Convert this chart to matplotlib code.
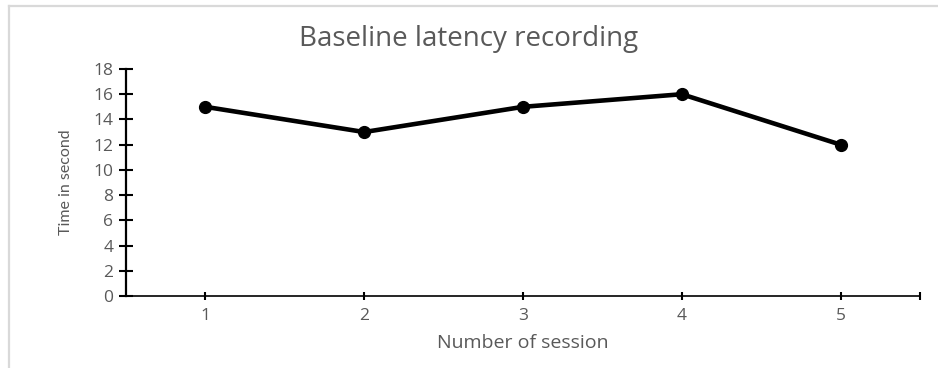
import matplotlib.pyplot as plt
from matplotlib.lines import Line2D

sessions = [1, 2, 3, 4, 5]
latency = [15, 13, 15, 16, 12]
y_ticks = list(range(0, 20, 2))

GRAY = '#595959'

plt.rcParams['font.family'] = ['Open Sans', 'DejaVu Sans']

fig = plt.figure(figsize=(9.38, 3.68), dpi=100)
ax = fig.add_axes([0.1343, 0.1957, 0.8465, 0.6168])

ax.plot(sessions, latency, color='black', linewidth=3.3, marker='o', markersize=8.5,
        solid_capstyle='round', zorder=3)

ax.set_xlim(0.5, 5.5)
ax.set_ylim(0, 18)
ax.set_xticks(sessions + [5.5])
ax.set_xticklabels([str(s) for s in sessions] + [''])
ax.set_yticks(y_ticks)

for side in ['top', 'right']:
    ax.spines[side].set_visible(False)
ax.spines['left'].set_linewidth(1.6)
ax.spines['bottom'].set_linewidth(1.2)

ax.tick_params(axis='y', direction='inout', length=10, width=1.5, labelsize=12.5,
               labelcolor=GRAY, pad=4)
ax.tick_params(axis='x', direction='inout', length=6, width=1.5, labelsize=12.5,
               labelcolor=GRAY, pad=6)

ax.set_xlabel('Number of session', fontsize=14, color=GRAY, labelpad=7)
ax.set_ylabel('Time in second', fontsize=11.5, color=GRAY, labelpad=15,
              family=['Lato', 'DejaVu Sans'])
fig.text(0.5, 0.895, 'Baseline latency recording', fontsize=20, color=GRAY,
         ha='center', va='center')

# light frame around the chart area
fig.add_artist(Line2D([0.0096, 0.0096], [0.0, 0.983], transform=fig.transFigure,
                      color='#d9d9d9', linewidth=1.6))
fig.add_artist(Line2D([0.0096, 1.0], [0.983, 0.983], transform=fig.transFigure,
                      color='#d9d9d9', linewidth=1.6))

fig.savefig('out.png', dpi=100)
